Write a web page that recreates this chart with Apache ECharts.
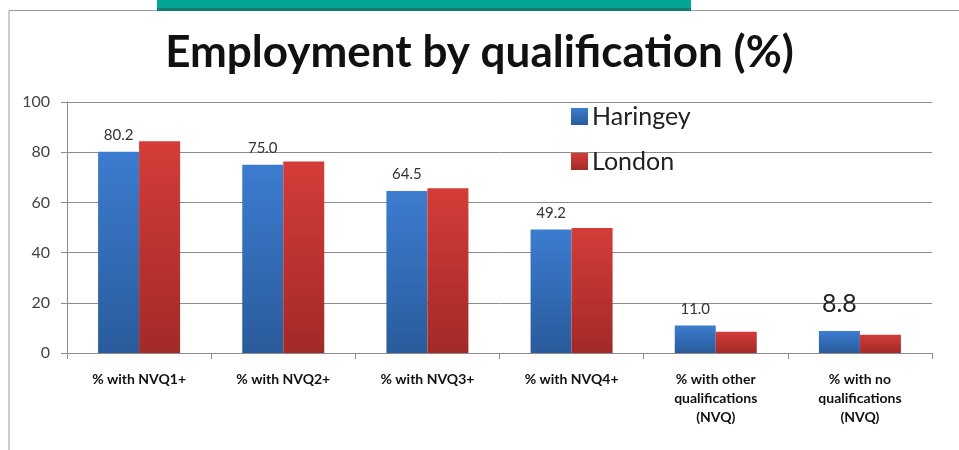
<!DOCTYPE html>
<html>
<head>
<meta charset="utf-8">
<script src="https://cdn.jsdelivr.net/npm/echarts@6/dist/echarts.min.js"></script>
<style>
  html, body { margin: 0; padding: 0; background: #fff; }
  #chart { width: 959px; height: 450px; }
</style>
</head>
<body>
<div id="chart"></div>
<script>
// Employment rate by qualification level, Haringey vs London
const categories = [
  '% with NVQ1+',
  '% with NVQ2+',
  '% with NVQ3+',
  '% with NVQ4+',
  '% with other\nqualifications\n(NVQ)',
  '% with no\nqualifications\n(NVQ)'
];
const haringey = [80.2, 75.0, 64.5, 49.2, 11.0, 8.8];
const london = [84.4, 76.3, 65.6, 49.8, 8.5, 7.3];
const yTicks = { min: 0, max: 100, interval: 20 };

const FONT = 'Lato, "Noto Sans", sans-serif';

function vGrad(top, bottom) {
  return new echarts.graphic.LinearGradient(0, 0, 0, 1, [
    { offset: 0, color: top },
    { offset: 1, color: bottom }
  ]);
}

// Haringey values are labelled; the last one is shown larger
const haringeyData = haringey.map((v, i) => {
  if (i === haringey.length - 1) {
    return { value: v, label: { fontSize: 25, color: '#222', distance: 14 } };
  }
  return v;
});

const chart = echarts.init(document.getElementById('chart'), null, { renderer: 'canvas' });

chart.setOption({
  animation: false,
  backgroundColor: '#fff',
  title: {
    text: 'Employment by qualification (%)',
    left: 'center',
    top: 26,
    textStyle: { fontFamily: FONT, fontWeight: 'bold', fontSize: 44, color: '#111' }
  },
  legend: {
    orient: 'vertical',
    left: 566,
    top: 99,
    itemWidth: 17,
    itemHeight: 17,
    itemGap: 20,
    icon: 'rect',
    textStyle: { fontFamily: FONT, fontSize: 25, color: '#222', padding: [0, 0, 0, -1] },
    data: ['Haringey', 'London']
  },
  graphic: [
    { type: 'polyline', shape: { points: [[9, 450], [9, 10.5], [959, 10.5]] },
      style: { stroke: '#9a9a9a', lineWidth: 1, fill: null }, silent: true },
    { type: 'rect', shape: { x: 157, y: 0, width: 534, height: 10 },
      style: { fill: '#03a597' }, silent: true },
    { type: 'rect', shape: { x: 157, y: 8, width: 534, height: 3 },
      style: { fill: '#127a70' }, silent: true }
  ],
  grid: { left: 67, right: 27, top: 102, bottom: 97, containLabel: false },
  xAxis: {
    type: 'category',
    data: categories,
    axisLine: { lineStyle: { color: '#8c8c8c', width: 1 } },
    axisTick: { show: true, length: 6, alignWithLabel: false, lineStyle: { color: '#8c8c8c' } },
    axisLabel: {
      interval: 0,
      margin: 17,
      fontFamily: FONT,
      fontWeight: 'bold',
      fontSize: 14,
      lineHeight: 19,
      color: '#111'
    }
  },
  yAxis: {
    type: 'value',
    min: yTicks.min,
    max: yTicks.max,
    interval: yTicks.interval,
    axisLine: { show: true, lineStyle: { color: '#8c8c8c', width: 1 } },
    axisTick: { show: true, length: 6, lineStyle: { color: '#8c8c8c' } },
    axisLabel: { margin: 17, fontFamily: FONT, fontSize: 16, color: '#444' },
    splitLine: { lineStyle: { color: '#8c8c8c', width: 1 } }
  },
  series: [
    {
      name: 'Haringey',
      type: 'bar',
      data: haringeyData,
      barWidth: 41,
      barGap: '0%',
      itemStyle: { color: vGrad('#3c7ccf', '#2a5b9c') },
      label: {
        show: true,
        position: 'top',
        distance: 9,
        fontFamily: FONT,
        fontSize: 15,
        color: '#333',
        formatter: p => p.value.toFixed(1)
      }
    },
    {
      name: 'London',
      type: 'bar',
      data: london,
      barWidth: 41,
      itemStyle: { color: vGrad('#d43c39', '#a22a27') }
    }
  ]
});
</script>
</body>
</html>
